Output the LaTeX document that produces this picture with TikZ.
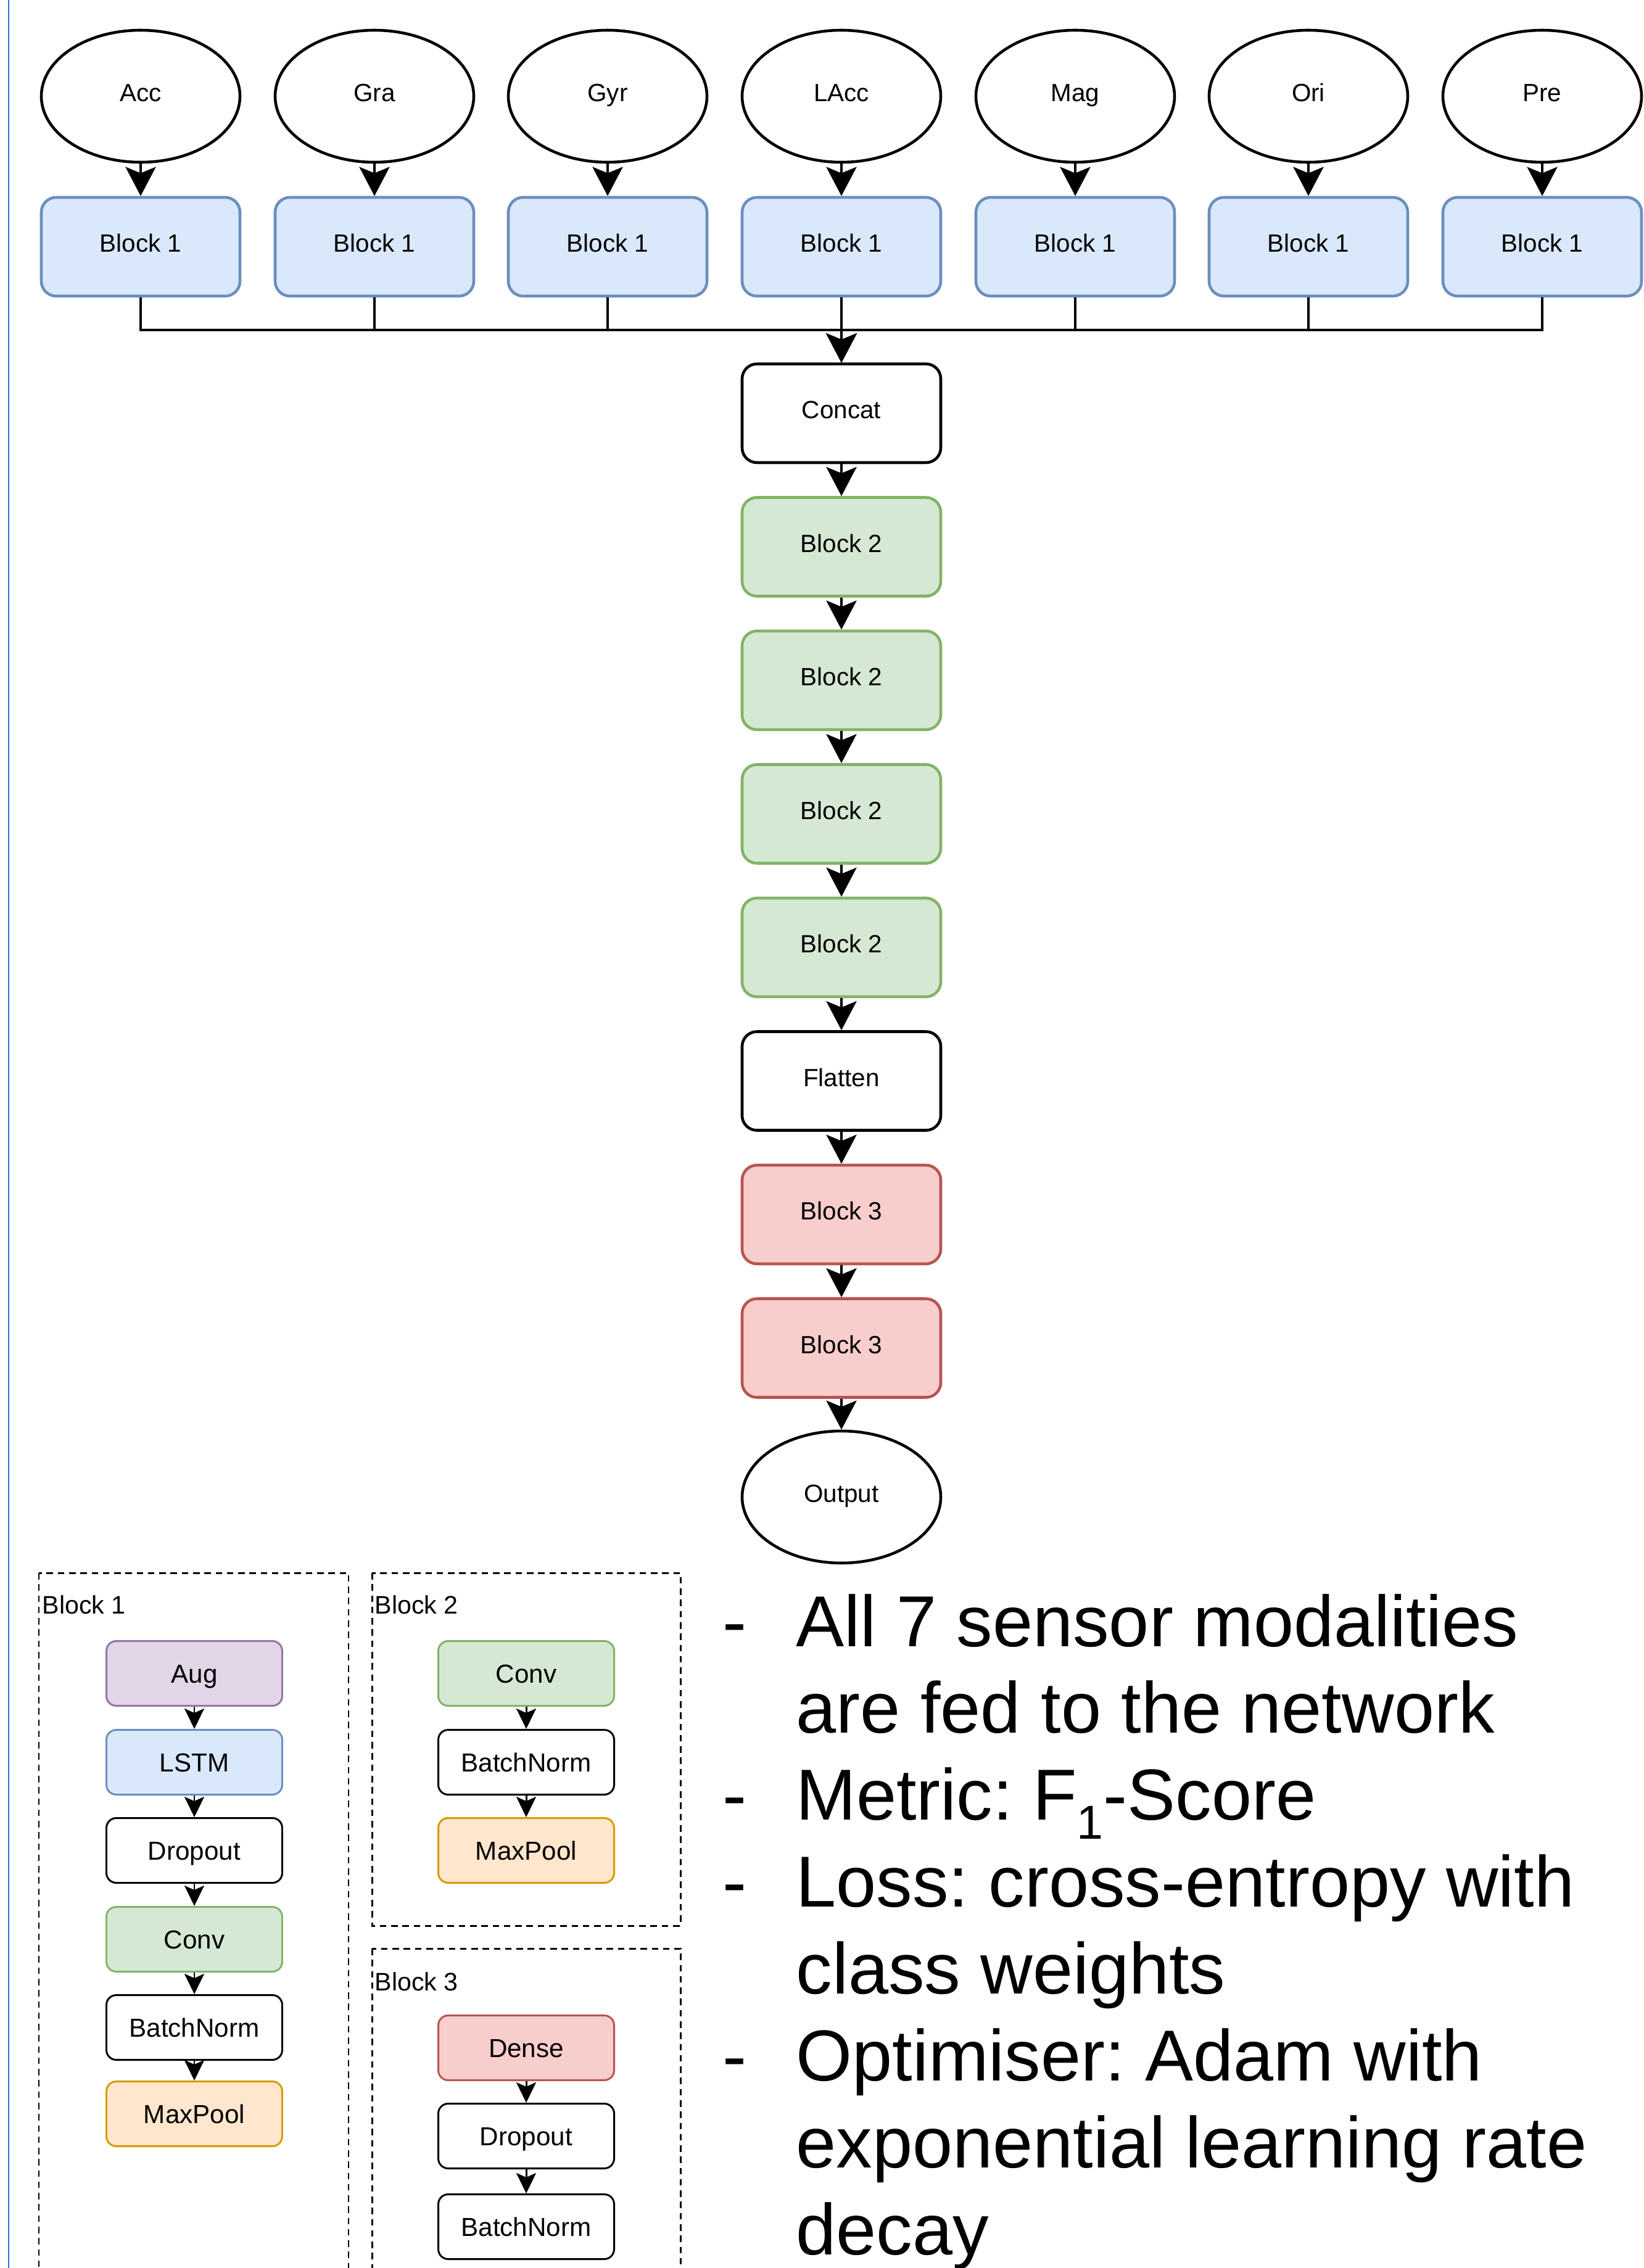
\documentclass[tikz,border=0pt]{standalone}
\usepackage{fontspec}
\setmainfont{Liberation Sans}
\usepackage{xcolor}
\definecolor{bluefill}{RGB}{218,232,252}
\definecolor{blueline}{RGB}{108,142,191}
\definecolor{greenfill}{RGB}{213,232,212}
\definecolor{greenline}{RGB}{130,179,102}
\definecolor{redfill}{RGB}{248,206,204}
\definecolor{redline}{RGB}{184,84,80}
\definecolor{purplefill}{RGB}{225,213,231}
\definecolor{purpleline}{RGB}{150,115,166}
\definecolor{orangefill}{RGB}{255,230,204}
\definecolor{orangeline}{RGB}{215,155,0}
\definecolor{pageblue}{RGB}{48,112,200}
\usetikzlibrary{arrows.meta,shapes.geometric}
\frenchspacing

\begin{document}
\begin{tikzpicture}[
        sensor/.style={draw, ellipse, line width=1.3pt, inner sep=0pt,
                     minimum width=3.22cm, minimum height=2.14cm,
                     font=\fontsize{11.5}{13}\selectfont, text height=7.4pt, text depth=2.5pt},
        blk/.style={draw, rounded corners=0.24cm, line width=1.3pt, inner sep=0pt,
                     minimum width=3.22cm, minimum height=1.60cm,
                     font=\fontsize{11.5}{13}\selectfont, text height=7.4pt, text depth=2.5pt},
        legbox/.style={draw, rounded corners=0.16cm, line width=0.85pt, inner sep=0pt,
                     minimum width=2.85cm, minimum height=1.05cm,
                     font=\fontsize{12}{14}\selectfont, text height=8.6pt, text depth=0pt},
        grp/.style={draw, dash pattern=on 3pt off 2.2pt, line width=0.85pt},
        grplabel/.style={anchor=base west, inner sep=0pt, font=\fontsize{11.7}{14}\selectfont},
        arr/.style={-{Stealth[length=0.47cm, width=0.49cm, inset=0.10cm]}, line width=1.3pt},
        legarr/.style={-{Stealth[length=0.33cm, width=0.32cm, inset=0.07cm]}, line width=0.85pt}
      ]
        \useasboundingbox (0,0) rectangle (26.65,-36.77);
        \clip (0,0) rectangle (26.65,-36.77);
        \draw[pageblue, line width=0.6pt] (0.14,0) -- (0.14,-36.77);

        % sensor inputs
        \node[sensor] (acc)  at (2.28, -1.56) {Acc};
        \node[sensor] (gra)  at (6.07, -1.56) {Gra};
        \node[sensor] (gyr)  at (9.85, -1.56) {Gyr};
        \node[sensor] (lacc) at (13.64, -1.56) {LAcc};
        \node[sensor] (mag)  at (17.43, -1.56) {Mag};
        \node[sensor] (ori)  at (21.21, -1.56) {Ori};
        \node[sensor] (pre)  at (25.00, -1.56) {Pre};

        \node[blk, fill=bluefill, draw=blueline] (b1acc)  at (2.28, -4.00) {Block 1};
        \node[blk, fill=bluefill, draw=blueline] (b1gra)  at (6.07, -4.00) {Block 1};
        \node[blk, fill=bluefill, draw=blueline] (b1gyr)  at (9.85, -4.00) {Block 1};
        \node[blk, fill=bluefill, draw=blueline] (b1lacc) at (13.64, -4.00) {Block 1};
        \node[blk, fill=bluefill, draw=blueline] (b1mag)  at (17.43, -4.00) {Block 1};
        \node[blk, fill=bluefill, draw=blueline] (b1ori)  at (21.21, -4.00) {Block 1};
        \node[blk, fill=bluefill, draw=blueline] (b1pre)  at (25.00, -4.00) {Block 1};

        \draw[arr] (acc)--(b1acc); \draw[arr] (gra)--(b1gra);
        \draw[arr] (gyr)--(b1gyr); \draw[arr] (lacc)--(b1lacc);
        \draw[arr] (mag)--(b1mag); \draw[arr] (ori)--(b1ori);
        \draw[arr] (pre)--(b1pre);

        % main chain
        \coordinate (bus) at (13.64, -5.35);
        \node[blk] (cc) at (13.64, -6.70) {Concat};
        \node[blk, fill=greenfill, draw=greenline] (b2a) at (13.64, -8.865) {Block 2};
        \node[blk, fill=greenfill, draw=greenline] (b2b) at (13.64, -11.03) {Block 2};
        \node[blk, fill=greenfill, draw=greenline] (b2c) at (13.64, -13.195) {Block 2};
        \node[blk, fill=greenfill, draw=greenline] (b2d) at (13.64, -15.36) {Block 2};
        \node[blk] (flat) at (13.64, -17.525) {Flatten};
        \node[blk, fill=redfill, draw=redline] (b3a) at (13.64, -19.69) {Block 3};
        \node[blk, fill=redfill, draw=redline] (b3b) at (13.64, -21.855) {Block 3};
        \node[sensor] (out) at (13.64, -24.27) {Output};

        \draw[arr] (b1acc.south) |- (bus) -- (cc.north);
        \draw[arr] (b1gra.south) |- (bus) -- (cc.north);
        \draw[arr] (b1gyr.south) |- (bus) -- (cc.north);
        \draw[arr] (b1lacc.south) -- (cc.north);
        \draw[arr] (b1mag.south) |- (bus) -- (cc.north);
        \draw[arr] (b1ori.south) |- (bus) -- (cc.north);
        \draw[arr] (b1pre.south) |- (bus) -- (cc.north);
        \draw[arr] (cc)--(b2a); \draw[arr] (b2a)--(b2b);
        \draw[arr] (b2b)--(b2c); \draw[arr] (b2c)--(b2d);
        \draw[arr] (b2d)--(flat); \draw[arr] (flat)--(b3a);
        \draw[arr] (b3a)--(b3b); \draw[arr] (b3b)--(out);

        % legend of the blocks
        \draw[grp] (0.63, -25.50) rectangle (5.65, -37.50);
        \draw[grp] (6.03, -25.50) rectangle (11.03, -31.22);
        \draw[grp] (6.03, -31.59) rectangle (11.03, -37.50);
        \node[grplabel] (g1) at (0.68, -26.16) {Block 1};
        \node[grplabel] (g2) at (6.07, -26.16) {Block 2};
        \node[grplabel] (g3) at (6.07, -32.27) {Block 3};

        \node[legbox, fill=purplefill, draw=purpleline] (aug) at (3.15, -27.13) {Aug};
        \node[legbox, fill=bluefill, draw=blueline] (lstm) at (3.15, -28.57) {LSTM};
        \node[legbox] (drop1) at (3.15, -30.00) {Dropout};
        \node[legbox, fill=greenfill, draw=greenline] (conv1) at (3.15, -31.44) {Conv};
        \node[legbox] (bn1) at (3.15, -32.87) {BatchNorm};
        \node[legbox, fill=orangefill, draw=orangeline] (mp1) at (3.15, -34.27) {MaxPool};
        \draw[legarr] (aug)--(lstm); \draw[legarr] (lstm)--(drop1);
        \draw[legarr] (drop1)--(conv1); \draw[legarr] (conv1)--(bn1);
        \draw[legarr] (bn1)--(mp1);

        \node[legbox, fill=greenfill, draw=greenline] (conv2) at (8.53, -27.13) {Conv};
        \node[legbox] (bn2) at (8.53, -28.57) {BatchNorm};
        \node[legbox, fill=orangefill, draw=orangeline] (mp2) at (8.53, -30.00) {MaxPool};
        \draw[legarr] (conv2)--(bn2); \draw[legarr] (bn2)--(mp2);

        \node[legbox, fill=redfill, draw=redline] (dense) at (8.53, -33.20) {Dense};
        \node[legbox] (drop3) at (8.53, -34.63) {Dropout};
        \node[legbox] (bn3) at (8.53, -36.10) {BatchNorm};
        \draw[legarr] (dense)--(drop3); \draw[legarr] (drop3)--(bn3);

        % notes
        \node[anchor=base west, inner sep=0pt, font=\fontsize{33.3}{40.1}\selectfont] (notes)
          at (11.71, -26.69) {\begin{tabular}[t]{@{}p{1.19cm}@{}l@{}}
            - & All 7 sensor modalities\\
              & are fed to the network\\
            - & Metric: F\raisebox{-0.26em}{\fontsize{22}{22}\selectfont 1}-Score\\
            - & Loss: cross-entropy with\\
              & class weights\\
            - & Optimiser: Adam with\\
              & exponential learning rate\\
              & decay
          \end{tabular}};
      \end{tikzpicture}
\end{document}
